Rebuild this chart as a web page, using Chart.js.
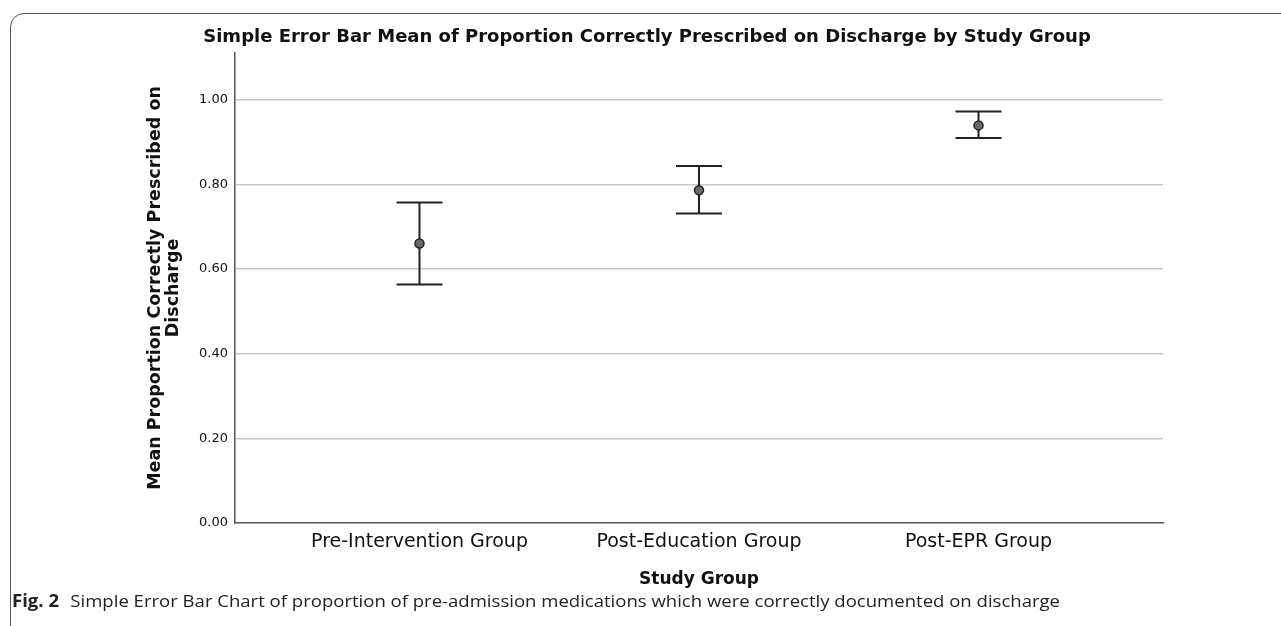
<!DOCTYPE html>
<html>
<head>
<meta charset="utf-8">
<script src="https://cdn.jsdelivr.net/npm/chart.js@4.4.0/dist/chart.umd.min.js"></script>
<style>
  html, body { margin: 0; padding: 0; background: #fff; overflow: hidden; }
  #wrap { position: relative; width: 1281px; height: 626px; }
  #frame {
    position: absolute; left: 10px; top: 13px; width: 1300px; height: 700px;
    border: 1.5px solid #555; border-radius: 14px; box-sizing: border-box;
  }
  #chart { position: absolute; left: 0; top: 0; }
  #caption {
    position: absolute; left: 12px; top: 589px; white-space: nowrap;
    font-family: "Open Sans", sans-serif; font-size: 17px; color: #222;
    transform-origin: left center;
  }
  #caption b { font-weight: 700; margin-right: 6px; }
</style>
</head>
<body>
<div id="wrap">
  <div id="frame"></div>
  <canvas id="chart" width="1281" height="626"></canvas>
  <div id="caption"><b>Fig. 2</b> Simple Error Bar Chart of proportion of pre-admission medications which were correctly documented on discharge</div>
</div>
<script>
// dados
const groups = ["Pre-Intervention Group", "Post-Education Group", "Post-EPR Group"];
const means = [0.660, 0.786, 0.939];
const lower = [0.563, 0.731, 0.909];
const upper = [0.757, 0.843, 0.972];
const yTicks = [0, 0.2, 0.4, 0.6, 0.8, 1.0];

Chart.defaults.font.family = "DejaVu Sans";
Chart.defaults.color = "#111";

// legenda da figura: estica até a largura original
const caption = document.getElementById("caption");
const w = caption.getBoundingClientRect().width;
caption.style.transform = `scaleX(${1048 / w})`;

// barras de erro desenhadas pelas escalas do Chart.js
const errorBars = {
  id: "errorBars",
  beforeDatasetsDraw(chart) {
    const { ctx, scales: { x, y } } = chart;
    const cap = 23;
    ctx.save();
    ctx.strokeStyle = "#222";
    ctx.lineWidth = 2;
    groups.forEach((g, i) => {
      const px = x.getPixelForValue(i);
      const top = y.getPixelForValue(upper[i]);
      const bot = y.getPixelForValue(lower[i]);
      ctx.beginPath();
      ctx.moveTo(px, top); ctx.lineTo(px, bot);
      ctx.moveTo(px - cap, top); ctx.lineTo(px + cap, top);
      ctx.moveTo(px - cap, bot); ctx.lineTo(px + cap, bot);
      ctx.stroke();
    });
    ctx.restore();
  }
};

new Chart(document.getElementById("chart"), {
  type: "scatter",
  data: {
    datasets: [{
      data: means.map((m, i) => ({ x: i, y: m })),
      pointRadius: 4.5,
      pointHoverRadius: 4.5,
      backgroundColor: "#6a6a6a",
      borderColor: "#222",
      borderWidth: 1.5
    }]
  },
  options: {
    responsive: false,
    animation: false,
    layout: { padding: { left: 131, right: 118, top: 0, bottom: 33 } },
    plugins: {
      legend: { display: false },
      tooltip: { enabled: false },
      title: {
        display: true,
        text: "Simple Error Bar Mean of Proportion Correctly Prescribed on Discharge by Study Group",
        font: { size: 18, weight: "bold", lineHeight: 1.2 },
        padding: { top: 26.2, bottom: 5.2 },
        color: "#111"
      }
    },
    scales: {
      x: {
        type: "linear",
        min: -0.66,
        max: 2.66,
        afterBuildTicks: s => { s.ticks = groups.map((g, i) => ({ value: i })); },
        afterFit: s => { s.height = 70; },
        grid: { display: false, drawTicks: false },
        border: { color: "#555", width: 1.5 },
        ticks: {
          padding: 8,
          font: { size: 19 },
          color: "#111",
          callback: v => groups[v]
        },
        title: {
          display: true,
          text: "Study Group",
          font: { size: 17, weight: "bold", lineHeight: 1.2 },
          padding: { top: 0, bottom: 3 },
          color: "#111"
        }
      },
      y: {
        min: 0,
        max: 1.11,
        afterBuildTicks: s => { s.ticks = yTicks.map(v => ({ value: v })); },
        afterFit: s => { s.width = 104; },
        grid: {
          drawTicks: false,
          color: c => (c.tick && c.tick.value === 0 ? "rgba(0,0,0,0)" : "#c8c8c8"),
          lineWidth: 1.5
        },
        border: { color: "#555", width: 1.5 },
        ticks: {
          padding: 7,
          font: { size: 13 },
          color: "#111",
          callback: v => Number(v).toFixed(2)
        },
        title: {
          display: true,
          text: ["Mean Proportion Correctly Prescribed on", "Discharge"],
          font: { size: 17.5, weight: "bold", lineHeight: 1.0 },
          padding: { top: 16, bottom: 0 },
          color: "#111"
        }
      }
    }
  },
  plugins: [errorBars]
});
</script>
</body>
</html>
